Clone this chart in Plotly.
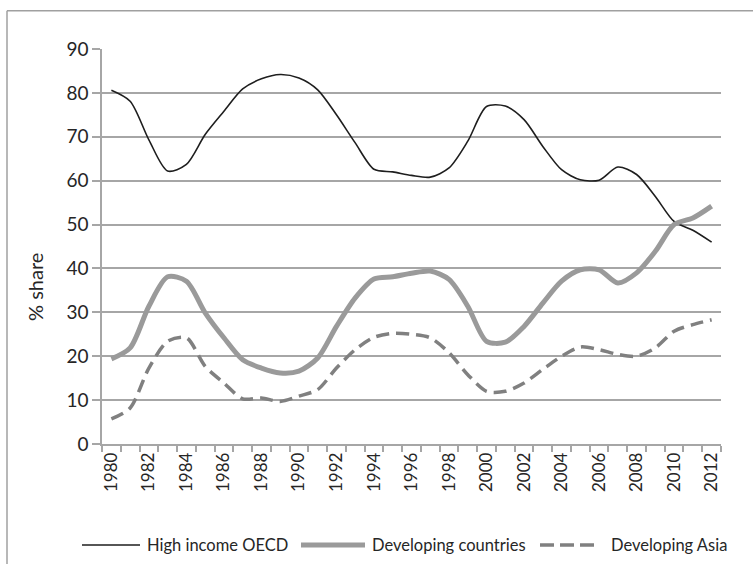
import plotly.graph_objects as go

years = list(range(1980, 2013))
high_income_oecd = [80.6, 78.1, 69.3, 62.2, 63.7, 70.5, 75.8, 80.9, 83.2, 84.2, 83.4, 80.7,
                    75.0, 68.6, 62.6, 62.0, 61.2, 60.8, 62.9, 69.0, 76.9, 77.0, 73.9, 67.8,
                    62.5, 60.2, 60.1, 63.1, 61.4, 56.4, 50.7, 48.7, 46.0]
developing_countries = [19.4, 21.9, 31.4, 38.1, 37.1, 29.9, 24.2, 19.2, 17.3, 16.2, 16.6, 19.6,
                        26.8, 33.3, 37.6, 38.1, 38.9, 39.4, 37.5, 31.4, 23.4, 23.2, 26.8, 32.1,
                        37.1, 39.7, 39.7, 36.7, 39.0, 43.9, 50.0, 51.5, 54.2]
developing_asia = [5.7, 8.2, 17.3, 23.4, 24.2, 17.7, 13.9, 10.3, 10.5, 9.7, 10.9, 12.4,
                   17.3, 21.5, 24.3, 25.2, 25.0, 24.2, 20.8, 15.8, 12.0, 12.0, 13.9, 17.0,
                   20.0, 22.1, 21.5, 20.4, 20.0, 21.9, 25.7, 27.2, 28.3]
tick_years = list(range(1980, 2013, 2))
y_ticks = list(range(0, 91, 10))
series_names = ["High income OECD", "Developing countries", "Developing Asia"]

FONT = "Lato, Carlito, sans-serif"
GRID = "#a6a6a6"
TXT = "#262626"

W, H = 753, 564
ML, MR, MT, MB = 102, 32, 49, 120
PW, PH = W - ML - MR, H - MT - MB


def px_x(px):
    return (px - ML) / PW


def px_y(py):
    return (H - MB - py) / PH


styles = [
    dict(color="#1e1e1e", width=1.6),
    dict(color="#9a9a9a", width=5),
    dict(color="#808080", width=3.5, dash="13px,7px"),
]
series = [high_income_oecd, developing_countries, developing_asia]

fig = go.Figure()
for name, vals, st in zip(series_names, series, styles):
    fig.add_trace(go.Scatter(x=years, y=vals, name=name, mode="lines", showlegend=False,
                             line=dict(shape="spline", smoothing=0.8, **st)))

# manual legend (line sample + label)
legend_items = [(82, 140, 145), (301, 365, 370), (540, 597, 609)]
shapes = [
    dict(type="line", xref="paper", yref="paper", x0=px_x(7), x1=px_x(760), y0=px_y(10.7), y1=px_y(10.7),
         line=dict(color="#a0a0a0", width=1.5)),
    dict(type="line", xref="paper", yref="paper", x0=px_x(7), x1=px_x(7), y0=px_y(10.7), y1=px_y(570),
         line=dict(color="#a0a0a0", width=1.5)),
]
annotations = []
LY = 545
for (x0, x1, tx), name, st in zip(legend_items, series_names, styles):
    line = dict(color=st["color"], width=st["width"])
    if "dash" in st:
        line["dash"] = "14px,6px"
    shapes.append(dict(type="line", xref="paper", yref="paper", x0=px_x(x0), x1=px_x(x1),
                       y0=px_y(LY), y1=px_y(LY), line=line))
    annotations.append(dict(text=name, xref="paper", yref="paper", x=px_x(tx), y=px_y(LY),
                            xanchor="left", yanchor="middle", showarrow=False,
                            font=dict(size=16.5, family=FONT, color=TXT)))

annotations.append(dict(text="% share", xref="paper", yref="paper", x=px_x(35), y=px_y(287),
                        xanchor="center", yanchor="middle", textangle=-90, showarrow=False,
                        font=dict(size=20, family=FONT, color=TXT)))

fig.update_layout(
    width=W, height=H,
    margin=dict(l=ML, r=MR, t=MT, b=MB, autoexpand=False),
    paper_bgcolor="white", plot_bgcolor="white",
    font=dict(family=FONT, color=TXT, size=16),
    showlegend=False,
    shapes=shapes,
    annotations=annotations,
)
fig.update_xaxes(
    range=[1979.5, 2012.5], tickmode="array", tickvals=tick_years,
    ticktext=[str(y) for y in tick_years], tickangle=-90, ticks="",
    tickfont=dict(size=17, family=FONT, color=TXT),
    showline=True, linecolor=GRID, linewidth=1.5, showgrid=False, zeroline=False,
    minor=dict(tick0=1979.5, dtick=1, ticks="outside", ticklen=6, tickcolor=GRID, tickwidth=1.5, showgrid=False),
)
fig.update_yaxes(
    range=[0, 90], tickmode="array", tickvals=y_ticks, ticks="outside", ticklen=8,
    tickcolor=GRID, tickwidth=1.5,
    tickfont=dict(size=19, family=FONT, color=TXT),
    showline=True, linecolor=GRID, linewidth=1.5, showgrid=True, gridcolor=GRID, gridwidth=1.5,
    zeroline=False,
)

fig.write_html("out.html")
